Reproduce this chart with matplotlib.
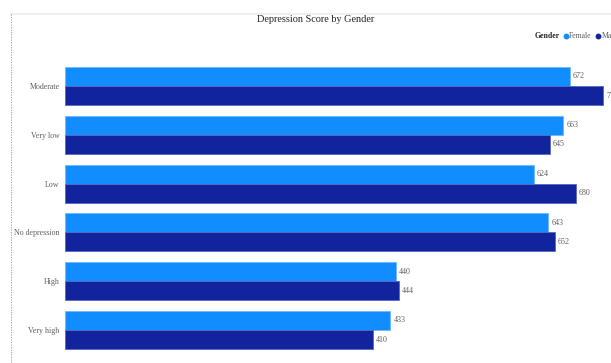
import matplotlib
matplotlib.use("Agg")
import matplotlib.pyplot as plt
from matplotlib.lines import Line2D

categories = ["Moderate", "Very low", "Low", "No depression", "High", "Very high"]
female = [672, 663, 624, 643, 440, 433]
male = [716, 645, 680, 652, 444, 410]

FEMALE_C = "#118DFF"
MALE_C = "#12239E"
TXT = "#605E5C"

plt.rcParams['font.family'] = ['Liberation Serif', 'DejaVu Serif']

W, H = 611, 363
fig = plt.figure(figsize=(W / 100, H / 100), dpi=100)

ax_left = 65 / W
ax_right = 1.0
top_px, bot_px = 61.6, 354.4
ax = fig.add_axes([ax_left, 1 - bot_px / H, ax_right - ax_left, (bot_px - top_px) / H])

scale = 0.7515  # px per unit
xmax = (W - 65) / scale
ax.set_xlim(0, xmax)
ax.set_ylim(len(categories) - 0.5, -0.5)

h = 0.39
ys = list(range(len(categories)))
ax.barh([y - h / 2 for y in ys], female, height=h, color=FEMALE_C,
        edgecolor="#6DB8FF", linewidth=0.6)
ax.barh([y + h / 2 for y in ys], male, height=h, color=MALE_C,
        edgecolor="#5A66C4", linewidth=0.6)

for y, v in zip(ys, female):
    ax.text(v + 4, y - h / 2, str(v), va="center", ha="left", fontsize=5.8,
            color=TXT, clip_on=False)
for y, v in zip(ys, male):
    ax.text(v + 4, y + h / 2, str(v), va="center", ha="left", fontsize=5.8,
            color=TXT, clip_on=False)

ax.set_yticks(ys)
ax.set_yticklabels(categories, fontsize=5.7, color=TXT)
ax.tick_params(axis="y", length=0, pad=4)
ax.set_xticks([])
for s in ax.spines.values():
    s.set_visible(False)

# Title
fig.text(316 / W, 1 - 19 / H, "Depression Score by Gender", ha="center", va="center",
         fontsize=7.4, color="#252423")

# Legend
ly = 1 - 36 / H
fig.text(535 / W, ly, "Gender", ha="left", va="center", fontsize=5.6,
         fontweight="bold", color="#252423")
fig.add_artist(Line2D([566 / W], [ly], marker="o", markersize=3.2, color=FEMALE_C,
                      linestyle="none", transform=fig.transFigure))
fig.text(569 / W, ly, "Female", ha="left", va="center", fontsize=5.6, color=TXT)
fig.add_artist(Line2D([598 / W], [ly], marker="o", markersize=3.2, color=MALE_C,
                      linestyle="none", transform=fig.transFigure))
fig.text(602 / W, ly, "Male", ha="left", va="center", fontsize=5.6, color=TXT)

# Frame decorations
fig.add_artist(Line2D([11 / W, 1], [1 - 14 / H, 1 - 14 / H], color="#EEEEEE",
                      linewidth=1.5, transform=fig.transFigure))
fig.add_artist(Line2D([11 / W, 11 / W], [1 - 14 / H, 0], color="#999999",
                      linewidth=0.6, linestyle=(0, (1.5, 1.5)), transform=fig.transFigure))

fig.savefig("out.png", dpi=100)
